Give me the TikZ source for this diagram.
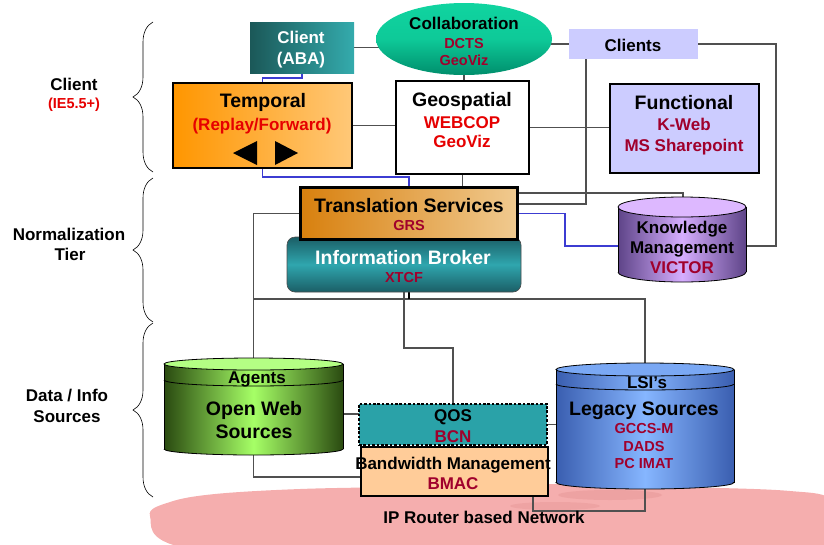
\documentclass[tikz,border=0pt]{standalone}
\usepackage{fontspec}
\setmainfont{Liberation Sans}
\usetikzlibrary{shapes.geometric,decorations.pathreplacing}

\definecolor{wiregray}{HTML}{505050}
\definecolor{wireblue}{HTML}{3C3CD2}
\definecolor{darkred}{HTML}{A0002C}
\definecolor{brightred}{HTML}{E60000}
\definecolor{abaDark}{HTML}{1B5858}
\definecolor{abaLight}{HTML}{34ABAD}
\definecolor{collabTop}{HTML}{10D4A0}
\definecolor{collabBot}{HTML}{008E6C}
\definecolor{tempL}{HTML}{FF9600}
\definecolor{tempR}{HTML}{FFC878}
\definecolor{lavender}{HTML}{CCCCFF}
\definecolor{transL}{HTML}{D8800E}
\definecolor{transR}{HTML}{F0CA90}
\definecolor{brokerDark}{HTML}{1B5E66}
\definecolor{brokerMid}{HTML}{2FA6AE}
\definecolor{knowEdge}{HTML}{5E4488}
\definecolor{knowMid}{HTML}{D6AEFF}
\definecolor{knowTop}{HTML}{DDB8FF}
\definecolor{webEdge}{HTML}{2A4A10}
\definecolor{webMid}{HTML}{A6FF66}
\definecolor{webTop}{HTML}{B4FF84}
\definecolor{lsiEdge}{HTML}{3A5EB0}
\definecolor{lsiMid}{HTML}{86B6FF}
\definecolor{lsiTop}{HTML}{7AA8F4}
\definecolor{qosTeal}{HTML}{2AA2A8}
\definecolor{peach}{HTML}{FFCC99}
\definecolor{netPink}{HTML}{F5AEAE}
\definecolor{netDeep}{HTML}{E99A9A}

\pgfdeclarelayer{netlayer}
\pgfdeclarelayer{wirelayer}
\pgfsetlayers{netlayer,wirelayer,main}

\tikzset{
  wire/.style={draw=wiregray,line width=1.1pt},
  bwire/.style={draw=wireblue,line width=1.1pt},
  box/.style={rectangle,inner sep=0pt,outer sep=0pt},
  body/.style={rectangle,inner sep=0pt,outer sep=0pt,draw=none},
  hdk/.style={anchor=base,inner sep=0pt,font=\fontsize{19.5}{22}\selectfont\bfseries,text=black},
  hdw/.style={anchor=base,inner sep=0pt,font=\fontsize{19.5}{22}\selectfont\bfseries,text=white},
  mdk/.style={anchor=base,inner sep=0pt,font=\fontsize{17}{20}\selectfont\bfseries,text=black},
  mdw/.style={anchor=base,inner sep=0pt,font=\fontsize{17}{20}\selectfont\bfseries,text=white},
  mdr/.style={anchor=base,inner sep=0pt,font=\fontsize{17}{20}\selectfont\bfseries,text=brightred},
  mdd/.style={anchor=base,inner sep=0pt,font=\fontsize{17}{20}\selectfont\bfseries,text=darkred},
  smd/.style={anchor=base,inner sep=0pt,font=\fontsize{14.5}{17}\selectfont\bfseries,text=darkred},
  smr/.style={anchor=base,inner sep=0pt,font=\fontsize{14.5}{17}\selectfont\bfseries,text=brightred},
}

% drum: left x, right x, top y, bottom y, ry, edge, middle, top face
\newcommand{\drum}[8]{%
  \shade[left color=#6,right color=#6,middle color=#7] (#1,#3) rectangle (#2,#4);
  \shade[left color=#6,right color=#6,middle color=#7] ({(#1+#2)/2},#4) ellipse ({(#2-#1)/2} and #5);
  \draw[black,line width=0.8pt] (#1,#3) -- (#1,#4) (#2,#3) -- (#2,#4);
  \begin{scope}
    \clip (#1-2,#4) rectangle (#2+2,#4+#5+2);
    \draw[black,line width=0.8pt] ({(#1+#2)/2},#4) ellipse ({(#2-#1)/2} and #5);
  \end{scope}
  \draw[black,line width=0.8pt,fill=#8] ({(#1+#2)/2},#3) ellipse ({(#2-#1)/2} and #5);
}
\newcommand{\drumband}[4]{%
  \begin{scope}
    \clip (#1-2,#3) rectangle (#2+2,#3+#4+2);
    \draw[black,line width=0.8pt] ({(#1+#2)/2},#3) ellipse ({(#2-#1)/2} and #4);
  \end{scope}
}

\begin{document}
\begin{tikzpicture}[x=1pt,y=-1pt]
\useasboundingbox (0,0) rectangle (824,544);

%% client tier
\node[box,left color=abaDark,right color=abaLight,minimum width=104pt,minimum height=51pt] (nClientABA) at (302,47.5) {};
\node[ellipse,inner sep=0pt,outer sep=0pt,top color=collabTop,bottom color=collabBot,middle color=collabTop!85!collabBot,minimum width=176pt,minimum height=72pt] (nCollab) at (464,39) {};
\node[box,fill=lavender,minimum width=129pt,minimum height=30pt] (nClients) at (633.5,44) {};
\node[box,draw=black,line width=1.5pt,left color=tempL,right color=tempR,minimum width=179pt,minimum height=85pt] (nTemporal) at (262.5,125.5) {};
\node[box,draw=black,line width=1.5pt,fill=white,minimum width=133pt,minimum height=93pt] (nGeo) at (462.5,127.5) {};
\node[box,draw=black,line width=1.5pt,fill=lavender,minimum width=149pt,minimum height=89pt] (nFunctional) at (684.5,128.5) {};

\fill (233,153) -- (257,141) -- (257,165) -- cycle;
\fill (275,141) -- (275,165) -- (298,153) -- cycle;

%% normalization tier
\node[box,rounded corners=8pt,draw=black!70,line width=0.6pt,top color=brokerDark,bottom color=brokerDark,middle color=brokerMid,minimum width=234pt,minimum height=55pt] (nBroker) at (404,264.5) {};
\node[box,draw=black,line width=3pt,left color=transL,right color=transR,minimum width=217pt,minimum height=52pt] (nTrans) at (409,213.5) {};

\drum{618}{746}{207}{272}{10}{knowEdge}{knowMid}{knowTop}
\node[body,minimum width=128pt,minimum height=75pt] (nKnow) at (682,244.5) {};

%% data / info sources
\drum{164}{343}{364}{449}{6}{webEdge}{webMid}{webTop}
\drumband{164}{343}{380}{6}
\node[body,minimum width=179pt,minimum height=97pt] (nOpenWeb) at (253.5,406.5) {};

\drum{556}{734}{369.5}{482.5}{6.5}{lsiEdge}{lsiMid}{lsiTop}
\drumband{556}{734}{384}{6}
\node[body,minimum width=178pt,minimum height=126pt] (nLegacy) at (645,426) {};

\node[box,fill=qosTeal,draw=black,line width=2.4pt,dash pattern=on 2.6pt off 1.8pt,minimum width=188pt,minimum height=41pt] (nQOS) at (453,424.5) {};
\node[box,fill=peach,draw=black,line width=1.2pt,minimum width=187pt,minimum height=49pt] (nBandwidth) at (454.5,471.5) {};

%% network cloud
\begin{pgfonlayer}{netlayer}
\fill[netPink] plot[smooth cycle,tension=0.6] coordinates {(150,516) (170,502) (215,494) (300,489) (400,487) (480,486) (560,484) (640,487) (720,488) (790,491) (830,498) (850,525) (830,565) (400,568) (185,548)};
\fill[netDeep,opacity=0.6] (610,495) ellipse (52 and 5);
\fill[netDeep,opacity=0.5] (555,506) ellipse (45 and 4);
\end{pgfonlayer}

%% braces
\draw[decorate,decoration={brace,amplitude=20pt},line width=0.6pt] (153,172) -- (153,22);
\draw[decorate,decoration={brace,amplitude=20pt},line width=0.6pt] (153,322) -- (153,178);
\draw[decorate,decoration={brace,amplitude=20pt},line width=0.6pt] (153,497) -- (153,323);

%% bends
\coordinate (cDropPt) at (586,204);
\coordinate (cKnowPt) at (683,193);
\coordinate (cRightPt) at (776,246);
\coordinate (cBlueKPt) at (565,246);
\coordinate (cBusPt) at (254,299);
\coordinate (cStubPt) at (409,299);
\coordinate (cQosPt) at (453,348);
\coordinate (cLinkPt) at (350,414);
\coordinate (cBwPt) at (300,477);
\coordinate (cNetPt) at (533,511);

\begin{pgfonlayer}{wirelayer}
\draw[wire] (nClientABA.east) -- (nClientABA.east -| nCollab.center);
\draw[wire] (nCollab.center |- nClients.west) -- (nClients.west);
\draw[wire] (nCollab.south) -- (nCollab.south |- nGeo.north);
\draw[bwire] (nClientABA.south) -- ++(0,5) -| (nTemporal.north);
\draw[bwire] (nTemporal.south) -- ++(0,9) -| (nTrans.north);
\draw[wire] (nTemporal.east) -- (nTemporal.east -| nGeo.west);
\draw[wire] (nGeo.east) -- (nGeo.east -| nFunctional.west);
\draw[wire] (nGeo.south) -- (nGeo.south |- nTrans.north);
\draw[wire] (nClients.south -| cDropPt) -- (cDropPt) -- (cDropPt -| nTrans.east);
\draw[wire] (cKnowPt -| nTrans.east) -- (cKnowPt) -- (cKnowPt |- nKnow.north);
\draw[wire] (nClients.east) -| (cRightPt) -- (cRightPt -| nKnow.east);
\draw[bwire] (nTrans.east) -| (cBlueKPt) -- (cBlueKPt -| nKnow.west);
\draw[wire] (nTrans.west) -| (nOpenWeb.north);
\draw[wire] (cBusPt) -| (nLegacy.north);
\draw[line width=2pt,black] (cStubPt |- nBroker.south) -- (cStubPt);
\draw[wire] (nBroker.south) |- (cQosPt) -- (nQOS.north);
\draw[wire] (cLinkPt -| nOpenWeb.east) -- (cLinkPt -| nQOS.west);
\draw[wire] (nQOS.east) -- (nQOS.east -| nLegacy.west);
\draw[wire] (nOpenWeb.south) |- (cBwPt -| nBandwidth.west);
\draw[wire] (cNetPt |- nBandwidth.south) -- (cNetPt) -| (nLegacy.south);
\end{pgfonlayer}

%% texts
\foreach \n/\x/\y/\s/\t in
{tClient/74/90/mdk/Client,
 tIE/74/108/smr/(IE5.5+),
 tNorm/69/240/mdk/Normalization,
 tTier/70/260/mdk/Tier,
 tData/67/401/mdk/{Data / Info},
 tSrc/67/422/mdk/Sources,
 tAbaA/301/43/mdw/Client,
 tAbaB/301/64/mdw/(ABA),
 tCollab/464/29/mdk/Collaboration,
 tDcts/464/48/smd/DCTS,
 tGeoVizA/464/65/smd/GeoViz,
 tTemporal/263/107/hdk/Temporal,
 tReplay/262/130/mdr/{(Replay/Forward)},
 tGeo/462/106/hdk/Geospatial,
 tWebcop/462/128/mdr/WEBCOP,
 tGeoVizB/462/147/mdr/GeoViz,
 tClients/633/51/mdk/Clients,
 tFunc/684/109/hdk/Functional,
 tKweb/684/130/mdd/K-Web,
 tShare/684/151/mdd/MS Sharepoint,
 tTrans/409/212/hdk/Translation Services,
 tGrs/409/230/smd/GRS,
 tBroker/403/264/hdw/Information Broker,
 tXtcf/404/282/smd/XTCF,
 tKnow/682/233/mdk/Knowledge,
 tMgmt/682/253/mdk/Management,
 tVictor/682/273/mdd/VICTOR,
 tAgents/257/383/mdk/Agents,
 tOpen/254/415/hdk/Open Web,
 tOpenSrc/254/438/hdk/Sources,
 tQos/453/421/mdk/QOS,
 tBcn/453/442/mdd/BCN,
 tBand/453/469/mdk/Bandwidth Management,
 tBmac/453/489/mdd/BMAC,
 tLsi/647/388/mdk/LSI’s,
 tLegacy/644/415/hdk/Legacy Sources,
 tGccs/644/433/smd/GCCS-M,
 tDads/644/451/smd/DADS,
 tImat/644/468/smd/PC IMAT,
 tNet/484/523/mdk/IP Router based Network}
{
  \node[\s] (\n) at (\x,\y) {\t};
};

\end{tikzpicture}
\end{document}
